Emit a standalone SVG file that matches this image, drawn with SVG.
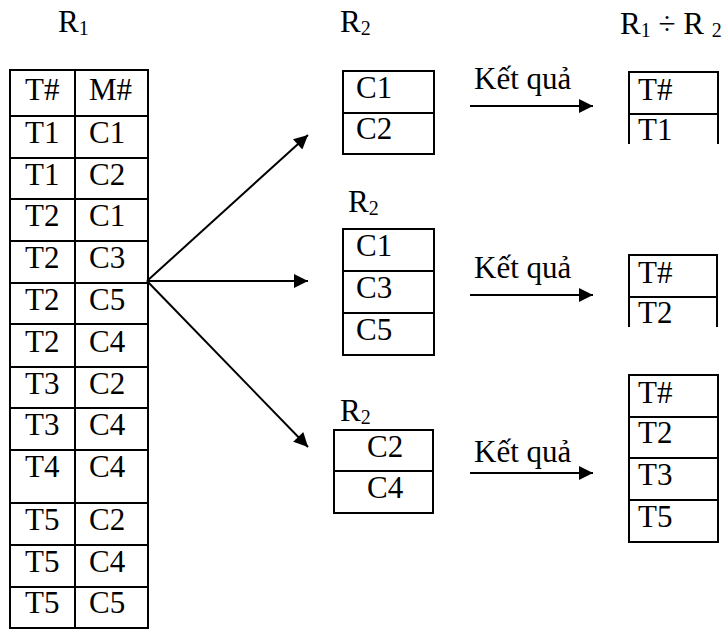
<svg xmlns="http://www.w3.org/2000/svg" width="725" height="629" viewBox="0 0 725 629" font-family="'Liberation Serif', 'Times New Roman', Tinos, serif">
<defs>
<marker id="ah" viewBox="0 0 10 10" refX="10" refY="5" markerWidth="16" markerHeight="14" markerUnits="userSpaceOnUse" orient="auto">
<path d="M0,0 L10,5 L0,10 z" fill="#000"/>
</marker>
</defs>
<style>
text{font-family:'Liberation Serif','Times New Roman',Tinos,serif;font-size:31px;fill:#000}
.sub{font-size:20px}
.b{fill:none;stroke:#000;stroke-width:2}
.ln{stroke:#000;stroke-width:2;fill:none}
.ar{stroke:#000;stroke-width:2;fill:none;marker-end:url(#ah)}
</style>
<rect width="725" height="629" fill="#fff"/>
<g id="labels">
<text x="58" y="32">R<tspan class="sub" dy="3">1</tspan></text>
<text x="340" y="32">R<tspan class="sub" dy="3">2</tspan></text>
<text x="620" y="34">R<tspan class="sub" dy="3">1</tspan><tspan dy="-3"> ÷ R </tspan><tspan class="sub" dy="3">2</tspan></text>
<text x="348" y="212">R<tspan class="sub" dy="3">2</tspan></text>
<text x="340" y="421">R<tspan class="sub" dy="3">2</tspan></text>
</g>
<g id="r1">
<rect class="b" x="10" y="70" width="138" height="558"/>
<path class="ln" d="M75,70V628 M10,116H148 M10,158H148 M10,199H148 M10,241H148 M10,283H148 M10,324H148 M10,367H148 M10,408H148 M10,450H148 M10,503H148 M10,545H148 M10,587H148"/>
<text x="25" y="100">T#</text><text x="89" y="100">M#</text>
<text x="25" y="143">T1</text><text x="89" y="143">C1</text>
<text x="25" y="185">T1</text><text x="89" y="185">C2</text>
<text x="25" y="226">T2</text><text x="89" y="226">C1</text>
<text x="25" y="268">T2</text><text x="89" y="268">C3</text>
<text x="25" y="310">T2</text><text x="89" y="310">C5</text>
<text x="25" y="352">T2</text><text x="89" y="352">C4</text>
<text x="25" y="394">T3</text><text x="89" y="394">C2</text>
<text x="25" y="435">T3</text><text x="89" y="435">C4</text>
<text x="25" y="477">T4</text><text x="89" y="477">C4</text>
<text x="25" y="530">T5</text><text x="89" y="530">C2</text>
<text x="25" y="572">T5</text><text x="89" y="572">C4</text>
<text x="25" y="613">T5</text><text x="89" y="613">C5</text>
</g>
<g id="r2a">
<rect class="b" x="343" y="71" width="91" height="83"/>
<path class="ln" d="M343,113H434"/>
<text x="356" y="98">C1</text>
<text x="356" y="139">C2</text>
</g>
<g id="r2b">
<rect class="b" x="343" y="229" width="91" height="126"/>
<path class="ln" d="M343,271H434 M343,313H434"/>
<text x="356" y="256">C1</text>
<text x="356" y="298">C3</text>
<text x="356" y="340">C5</text>
</g>
<g id="r2c">
<rect class="b" x="334" y="430" width="99" height="83"/>
<path class="ln" d="M334,471H433"/>
<text x="367" y="457">C2</text>
<text x="367" y="498">C4</text>
</g>
<g id="res1">
<path class="ln" d="M629,144V72H718V144 M629,114H718"/>
<text x="638" y="100">T#</text>
<text x="638" y="140">T1</text>
</g>
<g id="res2">
<path class="ln" d="M629,327V255H717V327 M629,297H717"/>
<text x="638" y="283">T#</text>
<text x="638" y="323">T2</text>
</g>
<g id="res3">
<rect class="b" x="629" y="375" width="89" height="167"/>
<path class="ln" d="M629,417H718 M629,458H718 M629,500H718"/>
<text x="638" y="403">T#</text>
<text x="638" y="443">T2</text>
<text x="638" y="485">T3</text>
<text x="638" y="527">T5</text>
</g>
<g id="connectors">
<path class="ar" d="M147,281L308,135"/>
<path class="ar" d="M147,281H308"/>
<path class="ar" d="M147,281L308,447"/>
<path class="ar" d="M470,106H593"/>
<path class="ar" d="M470,295H593"/>
<path class="ar" d="M470,473H593"/>
<text x="474" y="89">Kết quả</text>
<text x="474" y="278">Kết quả</text>
<text x="474" y="462">Kết quả</text>
</g>
</svg>
